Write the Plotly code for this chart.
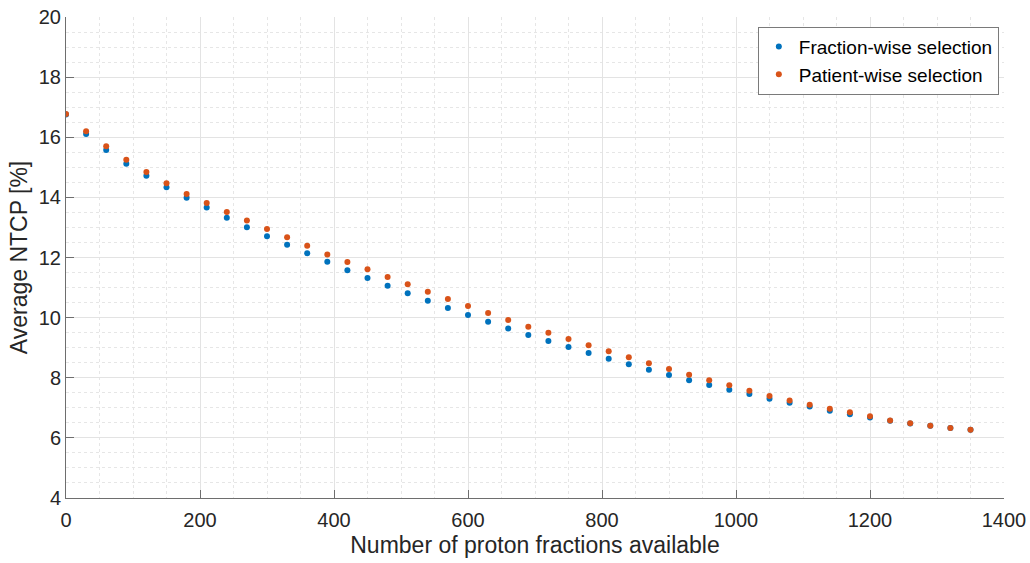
import plotly.graph_objects as go

fractions_available = [0, 30, 60, 90, 120, 150, 180, 210, 240, 270, 300, 330, 360, 390, 420,
                       450, 480, 510, 540, 570, 600, 630, 660, 690, 720, 750, 780, 810, 840,
                       870, 900, 930, 960, 990, 1020, 1050, 1080, 1110, 1140, 1170, 1200,
                       1230, 1260, 1290, 1320, 1350]

fraction_wise = [16.76, 16.11, 15.58, 15.12, 14.72, 14.34, 13.99, 13.66, 13.32, 13.01, 12.71,
                 12.42, 12.14, 11.86, 11.58, 11.32, 11.06, 10.81, 10.56, 10.32, 10.09, 9.86,
                 9.64, 9.42, 9.22, 9.02, 8.82, 8.63, 8.45, 8.27, 8.09, 7.92, 7.76, 7.60, 7.46,
                 7.30, 7.17, 7.04, 6.90, 6.79, 6.68, 6.57, 6.48, 6.40, 6.33, 6.27]

patient_wise = [16.77, 16.20, 15.70, 15.25, 14.84, 14.47, 14.11, 13.81, 13.51, 13.23, 12.95,
                12.67, 12.39, 12.10, 11.85, 11.61, 11.35, 11.11, 10.86, 10.62, 10.39, 10.15,
                9.92, 9.70, 9.50, 9.29, 9.08, 8.88, 8.68, 8.48, 8.29, 8.10, 7.92, 7.75, 7.57,
                7.39, 7.24, 7.10, 6.97, 6.85, 6.72, 6.58, 6.49, 6.40, 6.33, 6.27]

series_names = ["Fraction-wise selection", "Patient-wise selection"]
series_colors = ["#0072BD", "#D95319"]

x_title = "Number of proton fractions available"
y_title = "Average NTCP [%]"

FONT = "Liberation Sans, Arial, Helvetica, sans-serif"
AXIS_COLOR = "#6e6e6e"

fig = go.Figure()
for name, vals, col in zip(series_names, [fraction_wise, patient_wise], series_colors):
    fig.add_trace(go.Scatter(
        x=fractions_available, y=vals, mode="markers", name=name,
        marker=dict(color=col, size=6, line=dict(width=0)),
    ))

axis_common = dict(
    showline=True, linecolor=AXIS_COLOR, linewidth=1,
    ticks="inside", ticklen=8, tickcolor=AXIS_COLOR, tickwidth=1,
    showgrid=True, gridcolor="#e3e3e3", gridwidth=1,
    zeroline=False, mirror=False, automargin=False,
    tickfont=dict(family=FONT, size=20, color="#262626"),
    title_font=dict(family=FONT, size=23, color="#262626"),
)

fig.update_xaxes(
    range=[0, 1400], dtick=200, tick0=0,
    title_text=x_title, title_standoff=6, ticklabelstandoff=4,
    minor=dict(dtick=50, showgrid=True, griddash="dot", gridcolor="#e6e6e6", ticks=""),
    **axis_common,
)
fig.update_yaxes(
    range=[4, 20], dtick=2, tick0=0,
    title_text=y_title, title_standoff=4,
    minor=dict(dtick=0.5, showgrid=True, griddash="dot", gridcolor="#e6e6e6", ticks=""),
    **axis_common,
)

fig.update_layout(
    width=1030, height=563,
    margin=dict(l=66, r=26, t=17, b=65),
    paper_bgcolor="white", plot_bgcolor="white",
    font=dict(family=FONT, color="#262626"),
    showlegend=True,
    legend=dict(
        x=0.9945, y=0.98, xanchor="right", yanchor="top",
        bgcolor="white", bordercolor="#7a7a7a", borderwidth=1,
        font=dict(family=FONT, size=19, color="#000000"),
        tracegroupgap=0,
    ),
)

fig.write_html("out.html")
